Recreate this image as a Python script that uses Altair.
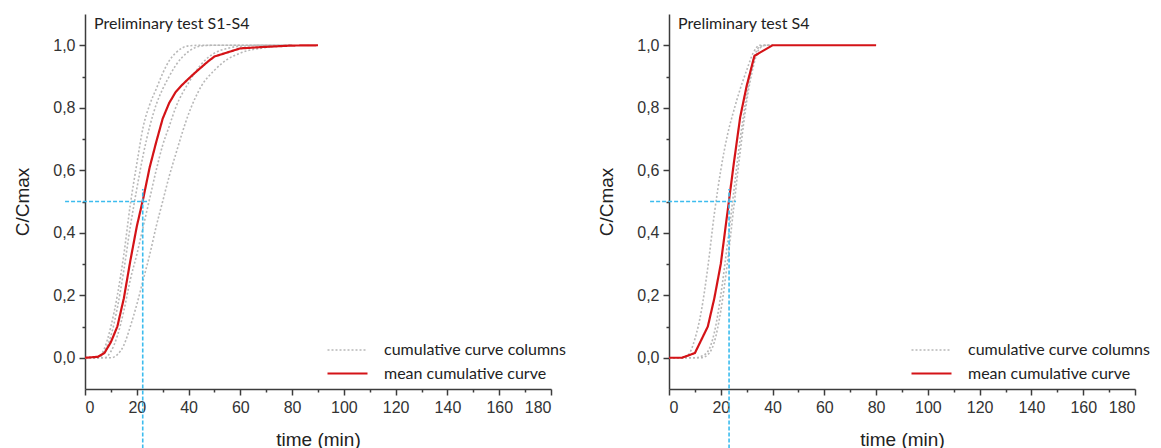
import altair as alt
import pandas as pd

# ---------------- data ----------------
# Panel 1: Preliminary test S1-S4
T1 = [0, 5, 7.5, 10, 12.5, 15, 17.5, 20, 22.5, 25, 27.5, 30, 32.5, 35, 40, 45, 50, 55, 60, 70, 80]
S1_A = [0, 0, 0.03, 0.10, 0.20, 0.33, 0.49, 0.62, 0.74, 0.81, 0.86, 0.91, 0.95, 0.975, 0.998, 1, 1, 1, 1, 1, 1]
S1_B = [0, 0, 0.02, 0.07, 0.16, 0.28, 0.42, 0.54, 0.65, 0.74, 0.81, 0.86, 0.90, 0.935, 0.98, 0.998, 1, 1, 1, 1, 1]
S1_C = [0, 0, 0, 0.02, 0.07, 0.15, 0.25, 0.33, 0.42, 0.51, 0.60, 0.68, 0.74, 0.80, 0.88, 0.94, 0.975, 0.99, 0.997, 1, 1]
S1_D = [0, 0, 0, 0, 0.01, 0.04, 0.10, 0.17, 0.25, 0.33, 0.42, 0.50, 0.58, 0.65, 0.78, 0.87, 0.92, 0.955, 0.975, 0.993, 1]
MEAN1_T = [0, 5, 7.5, 10, 12.5, 15, 17.5, 20, 22.5, 25, 27.5, 30, 32.5, 35, 37.5, 40, 42.5, 45, 47.5, 50, 60, 70, 80, 90]
MEAN1 = [0, 0.003, 0.015, 0.05, 0.10, 0.19, 0.31, 0.42, 0.51, 0.61, 0.69, 0.765, 0.815, 0.85, 0.873, 0.893,
         0.912, 0.93, 0.948, 0.964, 0.99, 0.995, 0.999, 1.0]

# Panel 2: Preliminary test S4
T2 = [0, 5, 7.5, 10, 12.5, 15, 17.5, 20, 22.5, 25, 27.5, 30, 32.5, 35, 37.5, 40]
S4_A = [0, 0, 0.01, 0.06, 0.15, 0.29, 0.46, 0.60, 0.71, 0.79, 0.86, 0.92, 0.975, 1.0, 1.0, 1.0]
S4_B = [0, 0, 0, 0, 0.005, 0.02, 0.08, 0.20, 0.36, 0.53, 0.70, 0.84, 0.95, 0.995, 1, 1]
S4_C = [0, 0, 0, 0, 0, 0.01, 0.05, 0.15, 0.30, 0.48, 0.66, 0.82, 0.93, 0.99, 1, 1]
MEAN2_T = [0, 5, 10, 15, 17.5, 20, 22.5, 25, 27.5, 30, 33, 40, 80]
MEAN2 = [0, 0, 0.015, 0.10, 0.19, 0.30, 0.46, 0.62, 0.77, 0.87, 0.966, 1.0, 1.0]

# t50 reference (cyan dashed guide lines)
T50 = [22.3, 23.2]
HLINE_START = [-7.7, -7.3]
HLINE_END = [24.7, 25.9]
VLINE_TOP = [0.54, 0.54]
VLINE_BOTTOM = [-0.29, -0.29]
HALF = 0.5

TITLES = ["Preliminary test S1-S4", "Preliminary test S4"]
KINDS = ["cumulative curve columns", "mean cumulative curve"]
X_TICKS = [0, 20, 40, 60, 80, 100, 120, 140, 160, 180]
X_MINOR = [10, 30, 50, 70, 90, 110, 130, 150, 170]
Y_TICKS = [0.0, 0.2, 0.4, 0.6, 0.8, 1.0]
Y_MINOR = [0.1, 0.3, 0.5, 0.7, 0.9]

# ---------------- styling ----------------
AXIS_COLOR = "#3c3c3c"
GRAY = "#b8b8b8"
RED = "#d41317"
CYAN = "#3cbcee"
NUM_FONT = "Liberation Sans"
TXT_FONT = "Lato"

xscale = alt.Scale(domain=[0, 180], nice=False, zero=False)
yscale = alt.Scale(domain=[-0.1, 1.1], nice=False, zero=False)

x_major = alt.Axis(values=X_TICKS, tickSize=6, tickWidth=1.5, labelFont=NUM_FONT, labelFontSize=16,
                   labelColor="#333333", labelPadding=4, title="time (min)", titleFont=NUM_FONT,
                   titleFontSize=19, titleFontWeight="normal", titleColor="#222222", titlePadding=15,
                   grid=False, domainColor=AXIS_COLOR, domainWidth=1.5, tickColor=AXIS_COLOR,
                   orient="bottom")
x_minor = alt.Axis(values=X_MINOR, tickSize=3, tickWidth=1.5, labels=False, domain=False, title=None,
                   grid=False, tickColor=AXIS_COLOR, orient="bottom")
y_major = alt.Axis(values=Y_TICKS, tickSize=6, tickWidth=1.5, labelFont=NUM_FONT, labelFontSize=16,
                   labelColor="#333333", labelPadding=4,
                   labelExpr="replace(format(datum.value, '.1f'), '.', ',')",
                   title="C/Cmax", titleFont=NUM_FONT, titleFontSize=19, titleFontWeight="normal",
                   titleColor="#222222", titlePadding=20, grid=False, domainColor=AXIS_COLOR,
                   domainWidth=1.5, tickColor=AXIS_COLOR, orient="left")
y_minor = alt.Axis(values=Y_MINOR, tickSize=3, tickWidth=1.5, labels=False, domain=False, title=None,
                   grid=False, tickColor=AXIS_COLOR, orient="left")


def legend():
    return alt.Legend(title=None, orient="none", legendX=251, legendY=325, symbolType="M-2,0H2",
                      symbolSize=400, symbolStrokeWidth=2, labelFont=TXT_FONT, labelFontSize=16,
                      labelColor="#222222", labelOffset=25, rowPadding=4, padding=0,
                      labelLimit=400)


def enc_style():
    return dict(
        color=alt.Color("kind:N", scale=alt.Scale(domain=KINDS, range=[GRAY, RED]), legend=legend()),
        strokeDash=alt.StrokeDash("kind:N", scale=alt.Scale(domain=KINDS, range=[[2, 2], [1, 0]]),
                                  legend=legend()),
        strokeWidth=alt.StrokeWidth("kind:N", scale=alt.Scale(domain=KINDS, range=[1.6, 2.2]),
                                    legend=legend()),
    )


def panel(i, t_cols, cols, t_mean, mean):
    rows = []
    for ci, col in enumerate(cols):
        for t, v in zip(t_cols, col):
            rows.append({"t": t, "v": v, "kind": KINDS[0], "col": f"c{ci}"})
    gray_df = pd.DataFrame(rows)
    mean_df = pd.DataFrame({"t": t_mean, "v": mean, "kind": KINDS[1], "col": "mean"})

    gray = alt.Chart(gray_df).mark_line(interpolate="monotone").encode(
        x=alt.X("t:Q", scale=xscale, axis=x_major),
        y=alt.Y("v:Q", scale=yscale, axis=y_major),
        detail="col:N",
        **enc_style(),
    )
    red = alt.Chart(mean_df).mark_line().encode(
        x=alt.X("t:Q", scale=xscale, axis=None),
        y=alt.Y("v:Q", scale=yscale, axis=None),
        detail="col:N",
        **enc_style(),
    )
    ref = pd.DataFrame({"x0": [HLINE_START[i]], "x1": [HLINE_END[i]], "yh": [HALF],
                        "xt": [T50[i]], "y0": [VLINE_BOTTOM[i]], "y1": [VLINE_TOP[i]]})
    hline = alt.Chart(ref).mark_rule(color=CYAN, strokeWidth=1.6, strokeDash=[4, 2], clip=False).encode(
        x=alt.X("x0:Q", scale=xscale, axis=None), x2="x1:Q",
        y=alt.Y("yh:Q", scale=yscale, axis=None),
    )
    vline = alt.Chart(ref).mark_rule(color=CYAN, strokeWidth=1.6, strokeDash=[4, 2], clip=False).encode(
        x=alt.X("xt:Q", scale=xscale, axis=None),
        y=alt.Y("y0:Q", scale=yscale, axis=None), y2="y1:Q",
    )
    minor = alt.Chart(mean_df).mark_point(opacity=0).encode(
        x=alt.X("t:Q", scale=xscale, axis=x_minor),
        y=alt.Y("v:Q", scale=yscale, axis=y_minor),
    )
    title = alt.Chart(pd.DataFrame({"label": [TITLES[i]]})).mark_text(
        align="left", baseline="middle", font=TXT_FONT, fontSize=16, color="#222222"
    ).encode(x=alt.value(9), y=alt.value(10), text="label:N")

    return alt.layer(gray, red, hline, vline, minor, title).resolve_axis(
        x="independent", y="independent"
    ).properties(width=466, height=375)


left = panel(0, T1, [S1_A, S1_B, S1_C, S1_D], MEAN1_T, MEAN1)
right = panel(1, T2, [S4_A, S4_B, S4_C], MEAN2_T, MEAN2)

chart = alt.hconcat(left, right, spacing=118, bounds="flush").resolve_scale(
    color="independent", strokeDash="independent", strokeWidth="independent"
).resolve_legend(
    color="independent", strokeDash="independent", strokeWidth="independent"
).configure_view(stroke=None).properties(padding={"left": 5, "top": 6, "right": 0, "bottom": 5})

chart.save("out.html", embed_options={"renderer": "svg", "actions": False})
